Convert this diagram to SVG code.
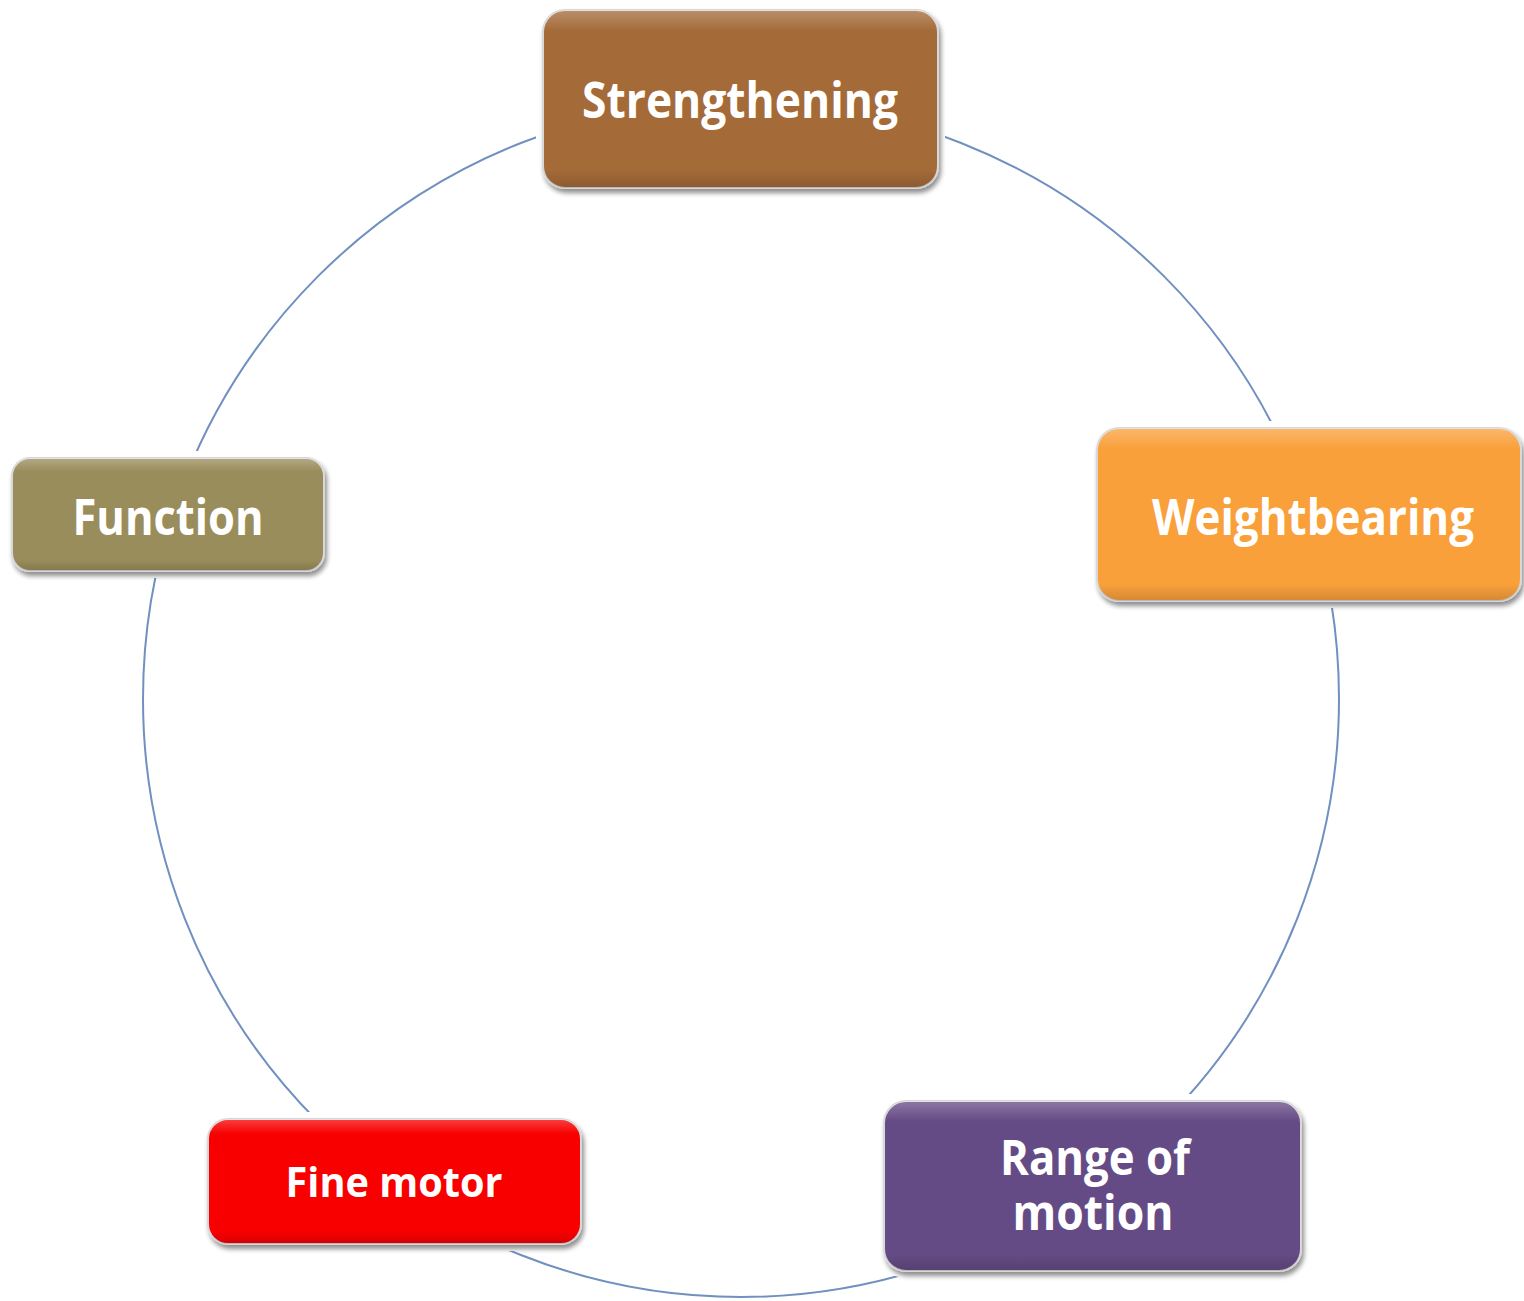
<svg xmlns="http://www.w3.org/2000/svg" width="1524" height="1301" viewBox="0 0 1524 1301">
<defs>
<style>
.halo{fill:#fff;stroke:#fff;stroke-width:14}
.box{stroke:#d8d8d8;stroke-width:2;filter:url(#sh)}
.lbl{font-family:"Open Sans","Noto Sans","Liberation Sans",sans-serif;font-weight:700;fill:#fff;text-anchor:middle}
.ring{fill:none;stroke:#7090c0;stroke-width:2}
</style>
<filter id="sh" x="-10%" y="-10%" width="120%" height="130%">
<feGaussianBlur in="SourceAlpha" stdDeviation="2.5"/>
<feOffset dx="2" dy="4" result="b"/>
<feComponentTransfer><feFuncA type="linear" slope="0.45"/></feComponentTransfer>
<feMerge><feMergeNode/><feMergeNode in="SourceGraphic"/></feMerge>
</filter>
<linearGradient id="gloss" x1="0" y1="0" x2="0" y2="1">
<stop offset="0" stop-color="#fff" stop-opacity="0.25"/>
<stop offset="0.12" stop-color="#fff" stop-opacity="0"/>
<stop offset="0.9" stop-color="#000" stop-opacity="0"/>
<stop offset="1" stop-color="#000" stop-opacity="0.15"/>
</linearGradient>
</defs>
<rect width="1524" height="1301" fill="#fff"/>
<g id="connectors">
<circle class="ring" cx="741" cy="699" r="598"/>
</g>
<g id="strengthening">
<rect class="halo" x="543" y="10" width="395" height="178" rx="22"/>
<rect class="box" x="543" y="10" width="395" height="178" rx="22" fill="#a46b38"/>
<rect x="543" y="10" width="395" height="178" rx="22" fill="url(#gloss)"/>
<text class="lbl" x="740" y="118" font-size="50" textLength="316" lengthAdjust="spacingAndGlyphs">Strengthening</text>
</g>
<g id="weightbearing">
<rect class="halo" x="1097" y="428" width="424" height="173" rx="22"/>
<rect class="box" x="1097" y="428" width="424" height="173" rx="22" fill="#f9a03a"/>
<rect x="1097" y="428" width="424" height="173" rx="22" fill="url(#gloss)"/>
<text class="lbl" x="1313" y="535" font-size="51" textLength="322" lengthAdjust="spacingAndGlyphs">Weightbearing</text>
</g>
<g id="function">
<rect class="halo" x="12" y="458" width="312" height="113" rx="18"/>
<rect class="box" x="12" y="458" width="312" height="113" rx="18" fill="#9a8d5c"/>
<rect x="12" y="458" width="312" height="113" rx="18" fill="url(#gloss)"/>
<text class="lbl" x="168" y="535" font-size="51" textLength="191" lengthAdjust="spacingAndGlyphs">Function</text>
</g>
<g id="fine-motor">
<rect class="halo" x="208" y="1119" width="373" height="125" rx="20"/>
<rect class="box" x="208" y="1119" width="373" height="125" rx="20" fill="#f80000"/>
<rect x="208" y="1119" width="373" height="125" rx="20" fill="url(#gloss)"/>
<text class="lbl" x="394" y="1197" font-size="42" textLength="217" lengthAdjust="spacingAndGlyphs">Fine motor</text>
</g>
<g id="range-of-motion">
<rect class="halo" x="884" y="1101" width="417" height="170" rx="22"/>
<rect class="box" x="884" y="1101" width="417" height="170" rx="22" fill="#654c85"/>
<rect x="884" y="1101" width="417" height="170" rx="22" fill="url(#gloss)"/>
<text class="lbl" x="1095" y="1175" font-size="49" textLength="190" lengthAdjust="spacingAndGlyphs">Range of</text>
<text class="lbl" x="1093" y="1230" font-size="49" textLength="161" lengthAdjust="spacingAndGlyphs">motion</text>
</g>
</svg>
